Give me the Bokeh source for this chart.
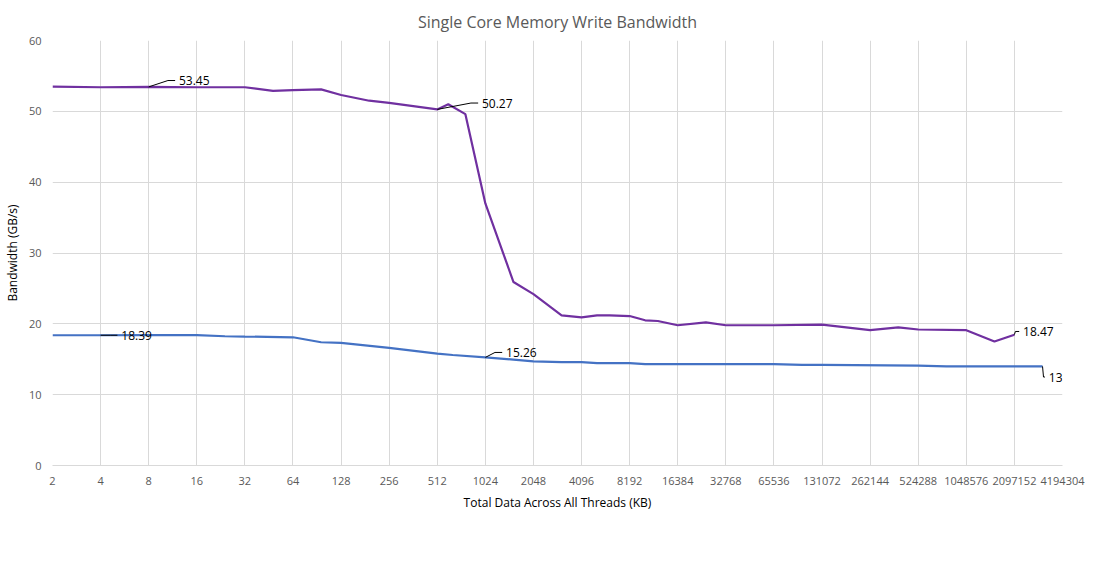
import numpy as np
from bokeh.plotting import figure
from bokeh.models import Legend, LegendItem, FixedTicker, ColumnDataSource, Range1d
from bokeh.core.properties import value
from bokeh.embed import file_html
from bokeh.resources import INLINE

tick_labels = [str(2**k) for k in range(1, 23)]

sd_sizes = [2, 4, 8, 16, 32, 48, 64, 96, 128, 192, 256, 512, 600, 768, 1024, 1536, 2048, 3072, 4096,
            5120, 6144, 8192, 10240, 12288, 16384, 24576, 32768, 65536, 131072, 262144, 393216,
            524288, 1048576, 1572864, 2097152]
sd_bw = [53.5, 53.4, 53.45, 53.4, 53.4, 52.9, 53.0, 53.1, 52.3, 51.5, 51.2, 50.27, 51.0, 49.6, 37.0,
         25.9, 24.2, 21.2, 20.9, 21.2, 21.2, 21.1, 20.5, 20.4, 19.8, 20.2, 19.8, 19.8, 19.9, 19.1,
         19.5, 19.2, 19.1, 17.5, 18.47]

gv_sizes = [2, 4, 8, 16, 24, 32, 64, 96, 128, 256, 512, 640, 1024, 1536, 2048, 3072, 4096, 5120,
            8192, 10240, 65536, 98304, 131072, 524288, 786432, 3145728]
gv_bw = [18.39, 18.39, 18.4, 18.4, 18.25, 18.2, 18.1, 17.4, 17.3, 16.6, 15.8, 15.6, 15.26, 14.95,
         14.7, 14.6, 14.6, 14.45, 14.45, 14.3, 14.3, 14.2, 14.2, 14.1, 14.0, 13.99]

label_sizes = [8, 512, 2097152, 4, 1024, 3145728]
label_values = [53.45, 50.27, 18.47, 18.39, 15.26, 13.99]


def pos(s):
    return np.log2(np.array(s, dtype=float)) - 1


FONT = "Open Sans"
p = figure(frame_width=1010, frame_height=425, output_backend="svg", toolbar_location=None,
           x_range=Range1d(0, 21), y_range=Range1d(0, 60),
           min_border_left=20, min_border_right=28, min_border_top=10, min_border_bottom=10,
           title="Single Core Memory Write Bandwidth")
p.title.align = "center"
p.title.text_font = FONT
p.title.text_font_size = "16px"
p.title.text_font_style = "normal"
p.title.text_color = "#595959"
p.title.standoff = 16
p.outline_line_color = None

p.xaxis.ticker = FixedTicker(ticks=list(range(22)))
p.xaxis.major_label_overrides = {i: t for i, t in enumerate(tick_labels)}
p.yaxis.ticker = FixedTicker(ticks=list(range(0, 61, 10)))
for ax in (p.xaxis, p.yaxis):
    ax.major_label_text_font = FONT
    ax.major_label_text_font_size = "11px"
    ax.major_label_text_color = "#595959"
    ax.axis_label_text_font = FONT
    ax.axis_label_text_font_size = "12px"
    ax.axis_label_text_font_style = "normal"
    ax.axis_label_text_color = "#000000"
    ax.major_tick_line_color = None
    ax.minor_tick_line_color = None
p.xaxis.axis_line_color = "#d9d9d9"
p.yaxis.axis_line_color = None
p.xaxis.axis_label = "Total Data Across All Threads (KB)"
p.yaxis.axis_label = "Bandwidth (GB/s)"
p.xaxis.axis_label_standoff = 6
p.xgrid.grid_line_color = "#d9d9d9"
p.ygrid.grid_line_color = "#d9d9d9"

r1 = p.line(pos(sd_sizes), sd_bw, line_color="#7030A0", line_width=2.2)
r2 = p.line(pos(gv_sizes), gv_bw, line_color="#4472C4", line_width=2.2)

offs = {8: (0.55, 0.9), 512: (0.85, 0.9), 2097152: (0.1, 0.45), 4: (0.35, 0.0),
        1024: (0.35, 0.7), 3145728: (0.05, -1.5)}
tx, ty, tt = [], [], []
for s, v in zip(label_sizes, label_values):
    x = float(pos([s])[0]); dx, dy = offs[s]
    c, d = x + dx, v + dy
    mid = c - 0.15 if dx > 0.3 else x + 0.02
    p.line([x, mid, c], [v, d, d], line_color="black", line_width=1)
    tx.append(c + 0.08); ty.append(d); tt.append(f"{v:.2f}")
src = ColumnDataSource(dict(x=tx, y=ty, t=tt))
p.text(x="x", y="y", text="t", source=src, text_font=value(FONT), text_font_size="12px",
       text_baseline="middle", text_color="black")

legend = Legend(items=[LegendItem(label="Snapdragon 821 (Kryo Big Core) Write Bandwidth", renderers=[r1]),
                       LegendItem(label="Graviton 1 Write Bandwidth", renderers=[r2])],
                orientation="horizontal", location="center", spacing=30,
                label_text_font=FONT, label_text_font_size="11px", label_text_color="#595959",
                border_line_color=None, glyph_width=24, margin=8, padding=4)
p.add_layout(legend, "below")

open("out.html", "w").write(file_html(p, INLINE))
